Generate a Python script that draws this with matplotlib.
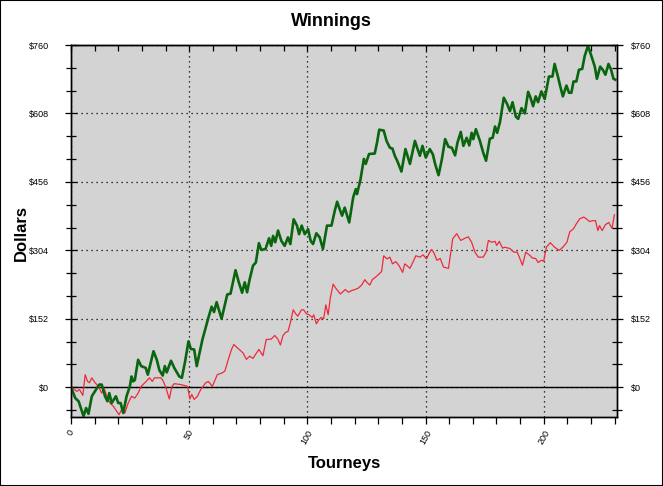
import matplotlib
matplotlib.use("Agg")
import matplotlib.pyplot as plt
from matplotlib.patches import Rectangle
from matplotlib.ticker import FuncFormatter, MultipleLocator

# cumulative winnings at the line's turning points
green_t = [0, 1.8, 3.2, 5.3, 6.4, 7.4, 8.8, 10.6, 12.0, 13.0, 14.4, 15.4, 16.2, 17.2, 19.0, 20.0,
           21.0, 22.1, 23.5, 24.9, 25.6, 26.3, 27.0, 28.4, 29.7, 31.6, 32.5, 34.9, 36.3, 37.4, 38.8,
           39.7, 40.5, 42.3, 43.7, 45.8, 46.9, 48.3, 49.7, 50.7, 52.1, 53.2, 55.6, 58.1, 59.5, 60.5,
           61.6, 63.7, 66.1, 67.5, 69.6, 71.0, 72.4, 73.5, 74.5, 75.6, 77.0, 78.2, 79.5, 80.5, 82.3,
           83.8, 84.7, 85.5, 86.4, 87.6, 89.0, 90.4, 91.8, 92.8, 94.2, 95.6, 96.5, 97.6, 98.9, 100.3,
           101.4, 102.4, 103.8, 105.2, 106.6, 108.3, 110.2, 111.6, 112.6, 113.7, 114.7, 115.8, 117.7,
           119.4, 120.5, 121.0, 122.5, 123.9, 124.7, 126.1, 128.5, 129.5, 130.4, 132.3, 133.5, 134.9,
           136.0, 137.0, 138.0, 139.8, 141.5, 143.4, 145.5, 147.6, 148.7, 150.1, 151.8, 153.1, 154.1,
           155.5, 156.9, 158.3, 159.7, 161.1, 162.5, 163.5, 164.9, 166.0, 167.4, 168.5, 169.5, 170.2,
           171.3, 173.0, 174.4, 175.6, 177.2, 178.4, 179.4, 180.3, 181.5, 183.1, 184.6, 185.7, 186.8,
           188.2, 189.2, 190.6, 192.0, 193.4, 194.4, 195.5, 196.6, 197.6, 199.0, 200.4, 202.2, 203.7,
           204.6, 206.0, 207.0, 208.1, 209.6, 210.7, 211.7, 212.6, 213.8, 214.9, 216.3, 217.3, 218.7,
           220.2, 221.6, 222.5, 223.9, 225.0, 226.1, 227.4, 228.5, 229.5, 230.3]
green_usd = [0, -24, -31, -64, -46, -59, -20, -5, 6, 6, -20, -31, -13, -35, -20, -35,
             -35, -57, -20, 2, 24, 13, 16, 61, 47, 43, 28, 80, 61, 38, 26,
             47, 33, 59, 43, 24, 21, 58, 102, 85, 84, 47, 106, 154, 179, 167,
             189, 152, 206, 208, 260, 233, 210, 233, 211, 240, 270, 277, 320, 305, 307,
             331, 314, 336, 322, 348, 325, 314, 333, 318, 373, 359, 340, 359, 340, 351,
             325, 318, 342, 333, 307, 359, 359, 392, 412, 395, 381, 399, 366,
             422, 440, 429, 462, 507, 496, 518, 519, 544, 572, 570, 547, 532,
             530, 514, 503, 479, 529, 496, 547, 514, 536, 510, 529, 517, 495,
             471, 506, 551, 534, 532, 515, 543, 567, 536, 554, 537, 565, 551,
             573, 547, 521, 503, 552, 554, 579, 565, 589, 643, 628, 613, 633,
             601, 596, 620, 608, 656, 643, 624, 646, 633, 657, 640, 690, 690,
             718, 690, 668, 646, 670, 654, 654, 679, 679, 705, 707, 735, 758,
             735, 712, 685, 712, 705, 694, 718, 705, 685, 683]

red_t = [0, 2.5, 3.6, 5.0, 6.0, 7.0, 7.8, 8.8, 10.2, 11.6, 13.0, 14.0, 15.4, 16.5, 17.9, 19.3,
         20.3, 21.4, 22.8, 24.2, 25.6, 27.0, 28.4, 29.7, 31.8, 33.2, 34.4, 35.3, 38.1, 39.1, 40.2,
         41.6, 42.7, 43.7, 46.5, 49.3, 50.3, 51.1, 52.1, 53.5, 54.9, 57.0, 58.1, 59.8, 61.9, 64.0,
         65.1, 66.5, 67.9, 68.9, 70.3, 71.6, 72.8, 74.2, 75.6, 77.0, 78.2, 79.5, 81.2, 82.6, 84.7,
         86.2, 87.5, 88.6, 89.7, 90.8, 91.8, 92.8, 94.0, 95.1, 96.0, 97.5, 98.4, 99.6, 100.7, 102.1,
         102.7, 103.8, 104.9, 105.9, 106.9, 107.8, 108.8, 109.7, 110.9, 112.3, 114.0, 115.0, 116.0,
         117.4, 118.8, 120.1, 121.5, 123.0, 124.3, 125.0, 126.4, 127.5, 129.2, 131.4, 132.3, 133.7,
         134.9, 136.0, 137.4, 138.8, 140.3, 141.2, 142.2, 143.4, 144.5, 145.9, 147.6, 149.0, 150.4,
         151.6, 152.5, 153.4, 154.8, 156.2, 157.6, 159.7, 161.5, 163.2, 164.9, 166.7, 168.1, 169.5,
         170.9, 172.3, 174.4, 175.6, 176.6, 178.0, 179.4, 180.1, 181.2, 182.6, 183.6, 185.7, 187.4,
         188.8, 189.9, 191.0, 192.4, 194.1, 195.2, 196.6, 197.6, 199.0, 200.0, 201.1, 202.8, 204.6,
         206.5, 208.1, 209.8, 211.0, 212.6, 213.8, 215.2, 216.9, 218.0, 219.4, 220.8, 221.9, 222.9,
         223.6, 224.7, 226.1, 227.5, 228.9, 229.9]
red_usd = [0, -9, -5, -18, 28, 13, 10, 21, 10, 2, -13, -2, -24, -35, -42, -53,
           -61, -50, -57, -35, -20, -24, -13, 2, 13, 21, 13, 21, 21, 13, -2,
           -26, 2, 8, 6, 2, -26, -16, -27, -20, -5, 10, 13, 2, 28, 32,
           36, 61, 84, 95, 88, 82, 76, 62, 69, 64, 74, 84, 70, 106, 107,
           115, 107, 94, 115, 122, 124, 143, 172, 163, 158, 172, 172, 163, 161, 155,
           161, 141, 150, 155, 152, 183, 161, 198, 229, 218, 207, 212, 217,
           211, 215, 217, 220, 227, 239, 234, 227, 239, 246, 257, 292, 285,
           289, 274, 279, 270, 255, 274, 270, 264, 276, 292, 289, 294, 285,
           298, 306, 300, 282, 286, 267, 264, 330, 341, 326, 331, 334, 322,
           300, 289, 289, 300, 326, 322, 324, 315, 324, 309, 311, 308, 300,
           300, 286, 271, 300, 293, 287, 286, 277, 282, 280, 311, 321, 311,
           304, 311, 322, 345, 352, 363, 374, 378, 374, 368, 370, 370, 348,
           359, 348, 361, 366, 353, 383]

y_step = 152
y_lim = (-66, 760)
x_lim = (0, 231)

plt.rcParams["font.family"] = ["Liberation Sans", "DejaVu Sans"]

W, H = 663, 486
fig = plt.figure(figsize=(W / 100, H / 100), dpi=100)
fig.patches.append(Rectangle((0, 0), 1, 1, transform=fig.transFigure, fill=False,
                             edgecolor="black", linewidth=1.5))

left, right, top, bottom = 71, 617, 45, 417
ax = fig.add_axes([left / W, 1 - bottom / H, (right - left) / W, (bottom - top) / H])
ax.set_facecolor("#d3d3d3")
ax.set_xlim(*x_lim)
ax.set_ylim(*y_lim)

dollar_fmt = FuncFormatter(lambda v, _: f"${v:.0f}")
for a in (ax,):
    a.yaxis.set_major_locator(MultipleLocator(y_step))
    a.yaxis.set_minor_locator(MultipleLocator(y_step / 3))
    a.yaxis.set_major_formatter(dollar_fmt)
ax.xaxis.set_major_locator(MultipleLocator(50))
ax.xaxis.set_minor_locator(MultipleLocator(10))

ax.grid(which="major", color="black", linestyle=(0, (1, 3)), linewidth=0.9)
ax.axhline(0, color="black", linewidth=1.0, zorder=2)

ax.plot(red_t, red_usd, color="#ee2a3a", linewidth=0.9, zorder=3)
ax.plot(green_t, green_usd, color="#0a650f", linewidth=1.9, zorder=4)

ax.tick_params(axis="y", which="both", direction="inout", left=True, right=True,
               labelleft=True, labelright=False, labelsize=6.5, pad=12, colors="black")
ax.tick_params(axis="y", which="major", length=8, width=0.9)
ax.tick_params(axis="y", which="minor", length=7, width=0.9)
ax.tick_params(axis="x", which="both", direction="out", bottom=True, top=False,
               labelsize=6.5, pad=3, length=5, width=0.9)
plt.setp(ax.get_xticklabels(), rotation=60, ha="center", va="top")

# top spine ticks point into the plot
ax_top = ax.secondary_xaxis("top")
ax_top.xaxis.set_major_locator(MultipleLocator(10))
ax_top.tick_params(direction="in", length=4, width=0.9, labeltop=False)

# right-hand dollar labels
ax_r = ax.twinx()
ax_r.set_ylim(*y_lim)
ax_r.yaxis.set_major_locator(MultipleLocator(y_step))
ax_r.yaxis.set_minor_locator(MultipleLocator(y_step / 3))
ax_r.yaxis.set_major_formatter(dollar_fmt)
ax_r.tick_params(axis="y", which="both", direction="inout", labelsize=6.5, pad=6, width=0.9)
ax_r.tick_params(axis="y", which="major", length=8)
ax_r.tick_params(axis="y", which="minor", length=7)

for a in (ax, ax_r):
    for s in a.spines.values():
        s.set_linewidth(1.0)
        s.set_color("black")

fig.text(331 / W, 1 - 22 / H, "Winnings", ha="center", va="center", fontsize=13, fontweight="bold")
fig.text(344 / W, 1 - 463 / H, "Tourneys", ha="center", va="center", fontsize=12, fontweight="bold")
fig.text(21 / W, 1 - 233 / H, "Dollars", ha="center", va="center", rotation=90,
         fontsize=12, fontweight="bold")

fig.savefig("out.png", dpi=100, facecolor="white")
